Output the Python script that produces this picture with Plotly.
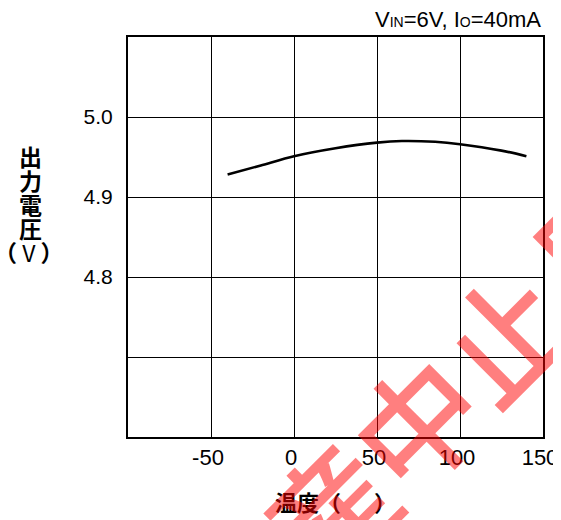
import plotly.graph_objects as go

# data
temps = [-40, -20, 0, 25, 50, 65, 85, 100, 125, 140]
vout = [4.928, 4.9395, 4.951, 4.961, 4.968, 4.970, 4.969, 4.966, 4.958, 4.951]

x_ticks = [-50, 0, 50, 100, 150]
x_tick_text = ["-50", "0", "50", "100", "150"]
y_ticks = [4.7, 4.8, 4.9, 5.0]
y_tick_text = ["", "4.8", "4.9", "5.0"]

title_html = ('V<span style="font-size:14px">IN</span>=6V, '
              'I<span style="font-size:14px">O</span>=40mA')
ylabel_chars = ["出", "力", "電", "圧"]
ylabel_unit = "<b>（</b> V <b>）</b>"
xlabel = "温度（\u3000\u2002）"
watermark = "生産中止品"

OFF = 8  # page body margin
W, H = 561 - OFF, 520 - OFF
L, T = 128 - OFF, 37 - OFF
R = W - (543 - OFF)
B = H - (437 - OFF)
pw, ph = W - L - R, H - T - B

def px(xs):
    return (xs - OFF - L) / pw

def py(ys):
    return (H - B - (ys - OFF)) / ph

fig = go.Figure()
fig.add_trace(go.Scatter(x=temps, y=vout, mode="lines",
                         line=dict(color="black", width=2.6, shape="spline", smoothing=0.8),
                         hoverinfo="skip", showlegend=False))

axis_common = dict(showline=True, linecolor="black", linewidth=2, mirror=True,
                   showgrid=True, gridcolor="black", gridwidth=1, zeroline=False,
                   automargin=False, ticks="")

fig.update_layout(
    width=W, height=H,
    margin=dict(l=L, r=R, t=T, b=B, autoexpand=False),
    paper_bgcolor="white", plot_bgcolor="white",
    xaxis=dict(range=[-100, 150], tickvals=x_ticks, ticktext=x_tick_text,
               ticklabelstandoff=0, ticklabelshift=-3,
               tickfont=dict(family="Liberation Sans, Arial", size=22, color="black"),
               **axis_common),
    yaxis=dict(range=[4.6, 5.1], tickvals=y_ticks, ticktext=y_tick_text,
               ticklabelstandoff=9,
               tickfont=dict(family="Liberation Sans, Arial", size=21, color="black"),
               **axis_common),
    showlegend=False,
)

ann = []
ann.append(dict(text=title_html, x=1.0, xref="paper", xanchor="right",
                y=py(19), yref="paper", yanchor="middle", showarrow=False,
                font=dict(family="Liberation Sans, Arial", size=22, color="black")))
ys = [156, 180, 204, 228]
for ch, yy in zip(ylabel_chars, ys):
    ann.append(dict(text="<b>" + ch + "</b>", x=px(30), xref="paper", xanchor="center",
                    y=py(yy), yref="paper", yanchor="middle", showarrow=False,
                    font=dict(family="Noto Sans CJK JP", size=23, color="black")))
ann.append(dict(text=ylabel_unit, x=px(29), xref="paper", xanchor="center",
                y=py(252), yref="paper", yanchor="middle", showarrow=False,
                font=dict(family="Noto Sans CJK JP", size=23, color="black")))
ann.append(dict(text="<b>" + xlabel + "</b>", x=0.5, xref="paper", xanchor="center",
                y=py(501), yref="paper", yanchor="middle", showarrow=False,
                font=dict(family="Noto Sans CJK JP", size=22, color="black")))
ann.append(dict(text=watermark, x=px(414), xref="paper", xanchor="center",
                y=py(420), yref="paper", yanchor="middle", showarrow=False,
                textangle=-45,
                font=dict(family="Noto Sans CJK JP", size=124, weight=500,
                          color="rgba(255,0,0,0.5)")))
fig.update_layout(annotations=ann)

fig.write_html("out.html")
